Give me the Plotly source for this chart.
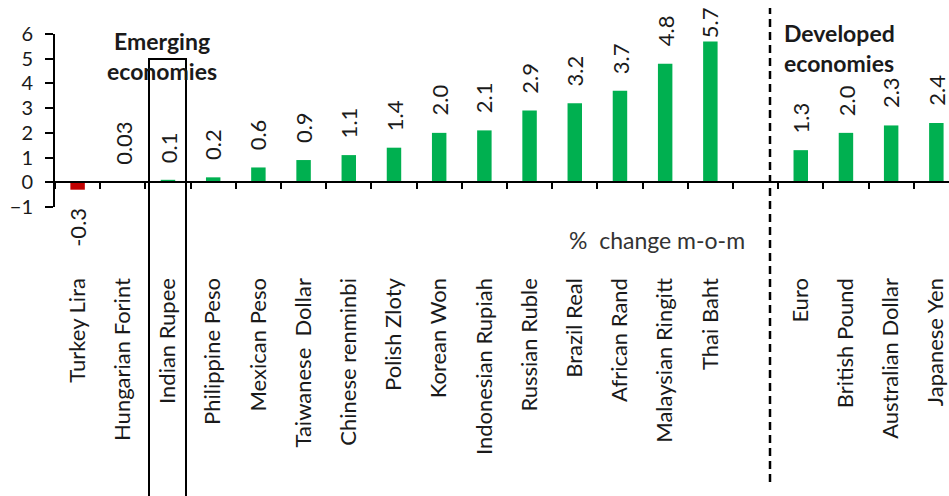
import plotly.graph_objects as go

categories = ["Turkey Lira", "Hungarian Forint", "Indian Rupee", "Philippine Peso",
              "Mexican Peso", "Taiwanese  Dollar", "Chinese renminbi", "Polish Zloty",
              "Korean Won", "Indonesian Rupiah", "Russian Ruble", "Brazil Real",
              "African Rand", "Malaysian Ringitt", "Thai Baht", " ",
              "Euro", "British Pound", "Australian Dollar", "Japanese Yen"]
values = [-0.3, 0.03, 0.1, 0.2, 0.6, 0.9, 1.1, 1.4, 2.0, 2.1, 2.9, 3.2, 3.7, 4.8, 5.7,
          None, 1.3, 2.0, 2.3, 2.4]
value_labels = ["-0.3", "0.03", "0.1", "0.2", "0.6", "0.9", "1.1", "1.4", "2.0", "2.1",
                "2.9", "3.2", "3.7", "4.8", "5.7", "", "1.3", "2.0", "2.3", "2.4"]
y_ticks = [-1, 0, 1, 2, 3, 4, 5, 6]

GREEN = "#00B050"
RED = "#C00000"
FONT = "Lato"
TXT = "#1a1a1a"
FS = 23

colors = [RED if (v is not None and v < 0) else GREEN for v in values]

fig = go.Figure()
fig.add_trace(go.Bar(x=categories, y=values, marker=dict(color=colors, line=dict(width=0)),
                     hoverinfo="skip"))

annotations = []
for c, v, t in zip(categories, values, value_labels):
    if v is None:
        continue
    if v >= 0:
        ys = 15 if v < 5.5 else 1
        annotations.append(dict(x=c, y=v, xref="x", yref="y", text=t, textangle=-90,
                                showarrow=False, yanchor="bottom", yshift=ys,
                                font=dict(family=FONT, size=22, color=TXT)))
    else:
        annotations.append(dict(x=c, y=v, xref="x", yref="y", text=t, textangle=-90,
                                showarrow=False, yanchor="top", yshift=-16,
                                font=dict(family=FONT, size=22, color=TXT)))

annotations += [
    dict(x=0.1197, y=(207 - 41) / 173, xref="paper", yref="paper", text="<b>Emerging</b>",
         showarrow=False, xanchor="center", yanchor="middle",
         font=dict(family=FONT, size=FS, color=TXT)),
    dict(x=0.1197, y=(207 - 71) / 173, xref="paper", yref="paper", text="<b>economies</b>",
         showarrow=False, xanchor="center", yanchor="middle",
         font=dict(family=FONT, size=FS, color=TXT)),
    dict(x=(782 - 55) / 894, y=(207 - 33) / 173, xref="paper", yref="paper", text="<b>Developed</b>",
         showarrow=False, xanchor="left", yanchor="middle",
         font=dict(family=FONT, size=FS, color=TXT)),
    dict(x=(782 - 55) / 894, y=(207 - 63) / 173, xref="paper", yref="paper", text="<b>economies</b>",
         showarrow=False, xanchor="left", yanchor="middle",
         font=dict(family=FONT, size=FS, color=TXT)),
    dict(x=(657 - 55) / 894, y=(207 - 240) / 173, xref="paper", yref="paper",
         text="%  change m-o-m", showarrow=False, xanchor="center", yanchor="middle",
         font=dict(family=FONT, size=FS, color="#333333")),
]

shapes = [
    dict(type="rect", xref="paper", yref="paper", x0=(149 - 55) / 894, x1=(186 - 55) / 894,
         y0=-2, y1=(207 - 59) / 173, line=dict(color="black", width=2), fillcolor="rgba(0,0,0,0)"),
    dict(type="line", xref="paper", yref="paper", x0=(770 - 55) / 894, x1=(770 - 55) / 894,
         y0=(207 - 482) / 173, y1=(207 - 8) / 173, line=dict(color="black", width=2.5, dash="8px,5px")),
]

fig.update_layout(
    width=949, height=496,
    margin=dict(l=55, r=0, t=34, b=289),
    paper_bgcolor="white", plot_bgcolor="white",
    showlegend=False, bargap=0.68,
    annotations=annotations, shapes=shapes,
    xaxis=dict(type="category", categoryorder="array", categoryarray=categories,
               range=[-0.5, 19.28], anchor="free", position=1 / 7,
               showline=True, linecolor="black", linewidth=2,
               ticks="outside", tickson="boundaries", ticklen=6, tickwidth=2, tickcolor="black",
               tickangle=-90, ticklabelstandoff=86,
               tickfont=dict(family=FONT, size=22, color=TXT), showgrid=False),
    yaxis=dict(range=[-1, 6], tickvals=y_ticks, ticks="outside", ticklen=8, tickwidth=2,
               tickcolor="black", showline=True, linecolor="black", linewidth=2,
               showgrid=False, zeroline=False, ticklabelstandoff=8,
               tickfont=dict(family=FONT, size=20, color=TXT)),
)

fig.write_html("out.html")
